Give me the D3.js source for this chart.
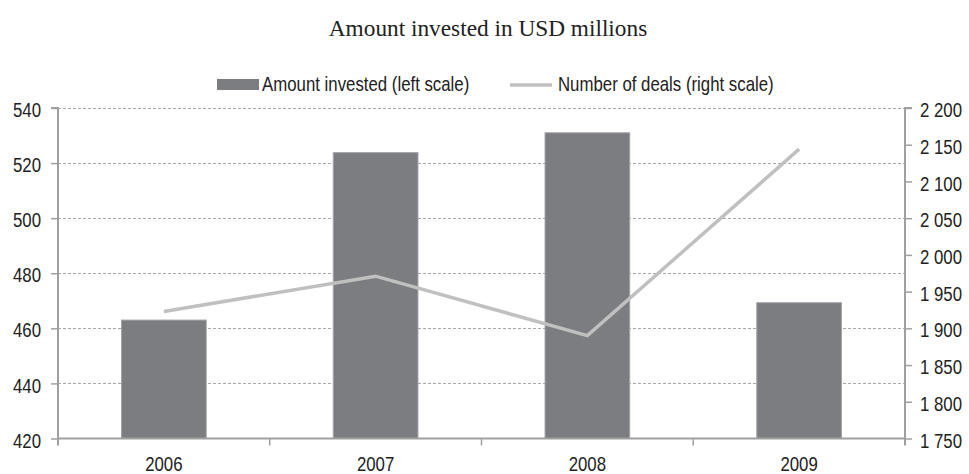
<!DOCTYPE html>
<html>
<head>
<meta charset="utf-8">
<script src="https://cdn.jsdelivr.net/npm/d3@7/dist/d3.min.js"></script>
<style>
  html, body { margin: 0; padding: 0; background: #fff; }
  svg text { font-family: "Liberation Sans", Arial, sans-serif; fill: #222; }
</style>
</head>
<body>
<svg id="chart" width="969" height="474"></svg>
<script>
// Venture investment by year
const years = ["2006", "2007", "2008", "2009"];
const amountInvested = [463, 523.8, 531, 469.3];      // USD millions, left scale
const numberOfDeals = [1923, 1971, 1890, 2144];        // count, right scale
const leftTicks = [420, 440, 460, 480, 500, 520, 540];
const rightTicks = [1750, 1800, 1850, 1900, 1950, 2000, 2050, 2100, 2150, 2200];

const svg = d3.select("#chart");
const plot = { left: 58, right: 905, top: 108, bottom: 438.5 };

const x = d3.scaleBand().domain(years)
  .range([plot.left, plot.right])
  .paddingInner(0.6).paddingOuter(0.3);
const yL = d3.scaleLinear().domain([420, 540]).range([plot.bottom, plot.top]);
const yR = d3.scaleLinear().domain([1750, 2200]).range([plot.bottom, plot.top]);

const axisColor = "#a0a0a0";
const squeeze = 0.82;

// Condensed sans text: regular face squeezed horizontally about its own origin
function narrow(sel) {
  sel.style("font-size", "20.5px").each(function () {
    const t = d3.select(this);
    const x0 = +t.attr("x") || 0;
    t.attr("x", x0 / squeeze).attr("transform", `scale(${squeeze},1)`);
  });
}

// Title
svg.append("text")
  .attr("x", 488).attr("y", 36)
  .attr("text-anchor", "middle")
  .style("font-family", "'Liberation Serif', 'Times New Roman', serif")
  .style("font-size", "23.3px")
  .text("Amount invested in USD millions");

// Horizontal dashed gridlines at left-scale ticks
svg.append("g").selectAll("line")
  .data(leftTicks.filter(d => d > 420))
  .join("line")
  .attr("x1", plot.left).attr("x2", plot.right)
  .attr("y1", d => Math.round(yL(d)) + 0.5).attr("y2", d => Math.round(yL(d)) + 0.5)
  .attr("stroke", "#a8a8a8").attr("stroke-width", 1)
  .attr("stroke-dasharray", "3,2");

// Bars
svg.append("g").selectAll("rect")
  .data(years.map((y, i) => ({ year: y, v: amountInvested[i] })))
  .join("rect")
  .attr("x", d => x(d.year))
  .attr("width", x.bandwidth())
  .attr("y", d => yL(d.v))
  .attr("height", d => yL(420) - yL(d.v))
  .attr("fill", "#7c7d81")
  .attr("stroke", "#a3a4a7").attr("stroke-width", 1);

// Line for number of deals
const line = d3.line()
  .x((d, i) => x(years[i]) + x.bandwidth() / 2)
  .y(d => yR(d));
svg.append("path")
  .datum(numberOfDeals)
  .attr("d", line)
  .attr("fill", "none")
  .attr("stroke", "#c0c0c0")
  .attr("stroke-width", 3.5)
  .attr("stroke-linejoin", "miter");

// Left axis
const gL = svg.append("g").attr("transform", `translate(${plot.left},0)`)
  .call(d3.axisLeft(yL).tickValues(leftTicks).tickSize(7).tickPadding(10).tickFormat(d3.format("d")));
// Right axis
const spaceFmt = d => { const s = String(d); return s.length > 3 ? s.slice(0, s.length - 3) + " " + s.slice(-3) : s; };
const gR = svg.append("g").attr("transform", `translate(${plot.right},0)`)
  .call(d3.axisRight(yR).tickValues(rightTicks).tickSize(7).tickPadding(8).tickFormat(spaceFmt));
// Bottom axis (ticks fall between categories)
const gB = svg.append("g").attr("transform", `translate(0,${plot.bottom})`)
  .call(d3.axisBottom(x).tickSize(0).tickPadding(18));

[gL, gR, gB].forEach(g => {
  g.select(".domain").attr("stroke", axisColor).attr("stroke-width", 2);
  g.selectAll(".tick line").attr("stroke", axisColor).attr("stroke-width", 1.5);
  g.selectAll(".tick text").attr("fill", "#222").call(narrow);
});
gL.selectAll(".tick text").attr("dy", "0.42em");
gR.selectAll(".tick text").attr("dy", "0.42em");
gL.select(".domain").attr("d", `M-7,${plot.top}H0V${plot.bottom + 7}`);
gR.select(".domain").attr("d", `M7,${plot.top}H0V${plot.bottom + 7}`);
gB.select(".domain").attr("d", `M${plot.left},0H${plot.right}`);

// Category separator ticks on the bottom axis
const step = x.step();
svg.append("g").selectAll("line")
  .data(years.slice(1))
  .join("line")
  .attr("x1", d => x(d) - x.paddingInner() * step / 2)
  .attr("x2", d => x(d) - x.paddingInner() * step / 2)
  .attr("y1", plot.bottom).attr("y2", plot.bottom + 7)
  .attr("stroke", axisColor).attr("stroke-width", 1.5);

// Legend
const legend = svg.append("g");
legend.append("rect")
  .attr("x", 217).attr("y", 79).attr("width", 42).attr("height", 11)
  .attr("fill", "#7c7d81");
legend.append("text")
  .attr("x", 262).attr("y", 91)
  .text("Amount invested (left scale)")
  .call(narrow);
legend.append("line")
  .attr("x1", 510).attr("x2", 552).attr("y1", 85).attr("y2", 85)
  .attr("stroke", "#c0c0c0").attr("stroke-width", 3.5);
legend.append("text")
  .attr("x", 558).attr("y", 91)
  .text("Number of deals (right scale)")
  .call(narrow);
</script>
</body>
</html>
